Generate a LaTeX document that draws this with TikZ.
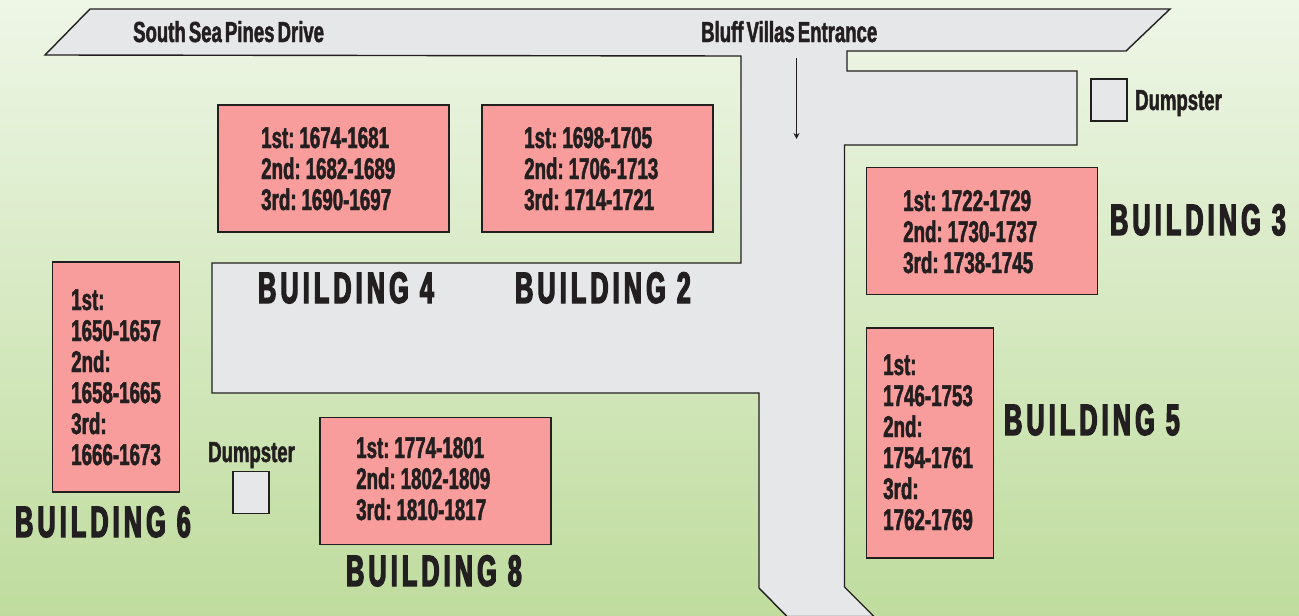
\documentclass[tikz,border=0pt]{standalone}
\usepackage{fontspec}
\setmainfont[FakeStretch=0.64,FakeBold=1.6,WordSpace=0.6]{Liberation Sans}
\newfontfamily\roomfont[FakeStretch=0.625,FakeBold=1.6,WordSpace=0.6]{Liberation Sans}
\newfontfamily\bigfont[FakeStretch=0.57,FakeBold=3,LetterSpace=9.5,WordSpace=1.0]{Liberation Sans}
\usetikzlibrary{arrows.meta}
\definecolor{ink}{HTML}{231F20}
\definecolor{roadgray}{HTML}{E6E7E8}
\definecolor{pinkb}{HTML}{F99D9C}
\definecolor{bgtop}{HTML}{EEF6E6}
\definecolor{bgmid}{HTML}{D7E8C4}
\definecolor{bgbot}{HTML}{BFDC9E}
\tikzset{
  x=1pt,y=-1pt,
  road/.style={draw=ink,line width=1.4pt,fill=roadgray,line join=miter},
  bldg/.style={draw=ink,line width=1.5pt,fill=pinkb,inner sep=0pt,outer sep=0pt},
  bin/.style={draw=ink,line width=1.4pt,fill=roadgray,inner sep=0pt,outer sep=0pt,minimum width=36pt,minimum height=42pt},
  rooms/.style={anchor=base west,inner sep=0pt,align=left,text=ink,font=\roomfont\fontsize{30}{31}\selectfont\bfseries},
  lbl/.style={anchor=base west,inner sep=0pt,text=ink,font=\fontsize{29}{31}\selectfont\bfseries},
  bname/.style={anchor=base west,inner sep=0pt,text=ink,font=\bigfont\fontsize{44}{44}\selectfont\bfseries},
  flow/.style={draw=ink,line width=0.9pt,-{Stealth[length=6pt,width=6pt]}}
}
\begin{document}
\begin{tikzpicture}
\useasboundingbox (0,0) rectangle (1299,616);
\shade[top color=bgtop,middle color=bgmid,bottom color=bgbot] (0,0) rectangle (1299,616);
\begin{scope}
\clip (0,0) rectangle (1299,616);
\draw[road] (45,55) -- (90,9) -- (1170,9) -- (1126,51) -- (847,51) -- (847,71) -- (1077,71) -- (1077,145) -- (844.5,145) -- (844.5,587) -- (874,616.5) -- (787,616.5) -- (759,588) -- (759,393) -- (212,393) -- (212,263) -- (741,263) -- (741,56) -- cycle;
\end{scope}
\node[bldg,minimum width=231pt,minimum height=127pt] (b4) at (333.5,168.5) {};
\node[bldg,minimum width=231pt,minimum height=127pt] (b2) at (597.5,168.5) {};
\node[bldg,minimum width=231pt,minimum height=127pt] (b3) at (982,231) {};
\node[bldg,minimum width=127pt,minimum height=230pt] (b5) at (930,443) {};
\node[bldg,minimum width=127pt,minimum height=230pt] (b6) at (116,377) {};
\node[bldg,minimum width=231pt,minimum height=127pt] (b8) at (435.5,481) {};
\node[bin] (d1) at (1109,100) {};
\node[bin] (d2) at (251,492.5) {};
\coordinate (a1) at (796.5,58);
\coordinate (a2) at (796.5,139);
\draw[flow] (a1) -- (a2);
\node[lbl] (t1) at (133,42) {South Sea Pines Drive};
\node[lbl] (t2) at (701,42) {Bluff Villas Entrance};
\node[lbl] (t3) at (1135,110) {Dumpster};
\node[lbl] (t4) at (208,462) {Dumpster};
\node[rooms] (r4) at (261,210) {1st: 1674-1681\\2nd: 1682-1689\\3rd: 1690-1697};
\node[rooms] (r2) at (524,210) {1st: 1698-1705\\2nd: 1706-1713\\3rd: 1714-1721};
\node[rooms] (r3) at (903,273) {1st: 1722-1729\\2nd: 1730-1737\\3rd: 1738-1745};
\node[rooms] (r8) at (356,520) {1st: 1774-1801\\2nd: 1802-1809\\3rd: 1810-1817};
\node[rooms] (r5) at (883,530) {1st:\\1746-1753\\2nd:\\1754-1761\\3rd:\\1762-1769};
\node[rooms] (r6) at (71,465) {1st:\\1650-1657\\2nd:\\1658-1665\\3rd:\\1666-1673};
\node[bname] (n4) at (258,303) {BUILDING 4};
\node[bname] (n2) at (515,303) {BUILDING 2};
\node[bname] (n3) at (1110,235) {BUILDING 3};
\node[bname] (n5) at (1004,435) {BUILDING 5};
\node[bname] (n6) at (15,537) {BUILDING 6};
\node[bname] (n8) at (346,586) {BUILDING 8};
\end{tikzpicture}
\end{document}
